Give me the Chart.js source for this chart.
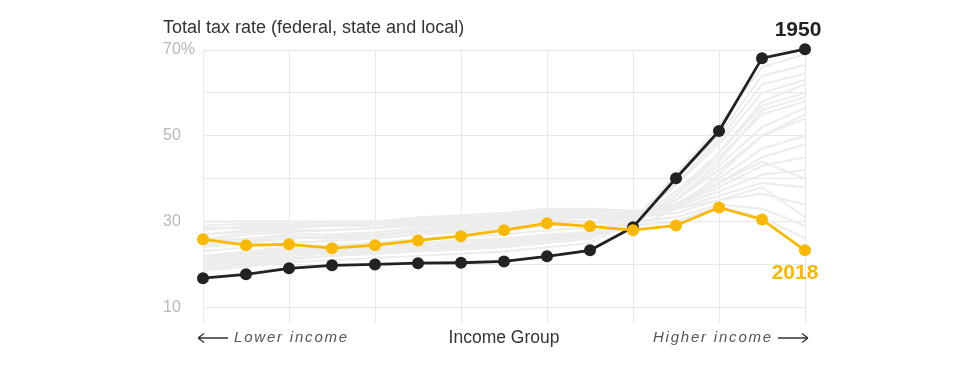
<!DOCTYPE html>
<html>
<head>
<meta charset="utf-8">
<script src="https://cdn.jsdelivr.net/npm/chart.js@4.4.1/dist/chart.umd.min.js"></script>
<style>
html,body{margin:0;padding:0;background:#fff;}
#wrap{width:974px;height:366px;position:relative;}
</style>
</head>
<body>
<div id="wrap"><canvas id="c" width="974" height="366"></canvas></div>
<script>
// Income groups (lowest to highest), 15 groups
const incomeGroups = ["G1","G2","G3","G4","G5","G6","G7","G8","G9","G10","G11","G12","G13","G14","G15"];
const yTickValues = [10, 20, 30, 40, 50, 60, 70];
const yLabelValues = [10, 30, 50, 70];

const rate1950 = [16.8, 17.7, 19.1, 19.8, 20.0, 20.3, 20.4, 20.7, 21.9, 23.3, 28.7, 40.1, 51.1, 68.1, 70.2];
const rate2018 = [25.9, 24.5, 24.7, 23.8, 24.5, 25.6, 26.6, 28.0, 29.6, 28.9, 28.0, 29.1, 33.3, 30.5, 23.3];

// Other years (grey background lines), estimated
const otherYears = [
  [18.5, 19.5, 20.5, 21.0, 21.5, 22.0, 22.5, 23.0, 24.0, 25.0, 30.0, 41.0, 52.5, 66.0, 69.0],
  [19.0, 20.0, 21.0, 22.0, 22.5, 23.0, 23.5, 24.0, 25.0, 26.0, 30.0, 40.0, 50.0, 64.0, 66.5],
  [19.5, 20.5, 21.5, 22.0, 22.5, 23.5, 24.0, 24.5, 25.5, 26.5, 30.0, 39.0, 49.0, 62.0, 64.5],
  [20.0, 21.0, 22.0, 22.5, 23.0, 24.0, 24.5, 25.0, 26.0, 27.0, 30.0, 38.5, 48.0, 60.0, 63.0],
  [21.0, 22.0, 23.0, 23.5, 24.0, 25.0, 25.5, 26.0, 27.0, 27.5, 30.0, 37.0, 46.0, 57.0, 60.0],
  [22.0, 22.5, 23.5, 24.0, 24.5, 25.0, 25.5, 26.0, 27.0, 27.0, 28.5, 33.0, 41.0, 50.0, 55.0],
  [22.0, 23.0, 24.0, 24.5, 25.0, 26.0, 26.5, 27.0, 28.0, 28.5, 30.0, 36.0, 45.0, 55.0, 58.0],
  [23.0, 24.0, 25.0, 25.5, 26.0, 27.0, 27.5, 28.0, 29.0, 29.5, 30.5, 35.0, 43.0, 52.0, 56.5],
  [24.0, 25.0, 26.0, 26.5, 27.0, 28.0, 28.5, 29.0, 30.0, 30.0, 31.0, 35.0, 42.0, 50.0, 54.0],
  [25.0, 26.0, 27.0, 27.0, 27.5, 28.5, 29.0, 29.5, 30.5, 31.0, 31.0, 34.0, 40.0, 47.0, 50.0],
  [26.0, 27.0, 27.5, 28.0, 28.5, 29.0, 29.5, 30.0, 31.0, 31.5, 31.5, 34.0, 39.0, 45.0, 48.0],
  [27.0, 28.0, 28.5, 29.0, 29.0, 29.5, 30.0, 30.5, 31.5, 32.0, 32.0, 34.0, 38.0, 43.0, 45.0],
  [28.0, 29.0, 29.0, 29.5, 29.5, 30.0, 30.5, 31.0, 32.0, 32.0, 32.0, 33.5, 37.0, 41.0, 42.0],
  [29.0, 29.5, 29.5, 30.0, 30.0, 30.5, 31.0, 31.5, 32.5, 32.5, 32.5, 33.0, 36.0, 39.0, 38.0],
  [30.0, 30.0, 30.0, 30.0, 30.0, 31.0, 31.5, 32.0, 33.0, 33.0, 32.5, 33.0, 35.0, 36.5, 34.0],
  [27.0, 27.5, 28.0, 28.0, 28.5, 29.0, 30.0, 30.5, 31.5, 31.0, 30.0, 31.0, 34.0, 33.0, 29.0],
  [26.0, 26.0, 26.5, 26.0, 26.5, 27.5, 28.5, 29.0, 30.5, 30.0, 29.0, 30.0, 33.5, 31.0, 26.0],
  [20.5, 21.5, 22.5, 23.0, 23.5, 24.0, 24.5, 25.0, 26.0, 26.5, 29.0, 36.0, 46.0, 58.0, 62.0],
  [21.5, 22.5, 23.0, 23.5, 24.0, 24.5, 25.0, 25.5, 26.5, 27.0, 29.5, 35.0, 44.0, 56.0, 59.0],
  [24.5, 25.5, 26.0, 26.5, 27.0, 27.5, 28.0, 28.5, 29.5, 30.0, 30.5, 33.0, 39.0, 44.0, 40.0],
  [28.5, 28.5, 29.0, 29.0, 29.5, 30.0, 30.5, 31.0, 32.0, 31.5, 31.0, 32.0, 35.0, 38.0, 31.0]
];

const GOLD = '#fbb800';
const BLACK = '#222222';
const GREY = '#ececec';

const datasets = [];
datasets.push({
  label: '2018', data: rate2018, borderColor: GOLD, backgroundColor: GOLD,
  borderWidth: 2.8, pointRadius: 6, pointHoverRadius: 6, pointBorderWidth: 0,
  tension: 0, clip: false, order: 0
});
datasets.push({
  label: '1950', data: rate1950, borderColor: BLACK, backgroundColor: BLACK,
  borderWidth: 2.8, pointRadius: 6, pointHoverRadius: 6, pointBorderWidth: 0,
  tension: 0, clip: false, order: 1
});
otherYears.forEach((vals, i) => {
  datasets.push({
    label: 'other' + i, data: vals, borderColor: GREY, backgroundColor: GREY,
    borderWidth: 2, pointRadius: 0, tension: 0, clip: false, order: 2 + i
  });
});

const annotations = {
  id: 'annotations',
  afterDatasetsDraw(chart) {
    const ctx = chart.ctx;
    const xs = chart.scales.x, ys = chart.scales.y;
    const area = chart.chartArea;
    const last = incomeGroups.length - 1;
    ctx.save();
    ctx.textBaseline = 'middle';
    // series labels
    ctx.font = 'bold 21px "Liberation Sans", Arial, sans-serif';
    ctx.textAlign = 'center';
    ctx.fillStyle = BLACK;
    ctx.fillText('1950', xs.getPixelForValue(last) - 7, ys.getPixelForValue(rate1950[last]) - 19);
    ctx.fillStyle = GOLD;
    ctx.fillText('2018', xs.getPixelForValue(last) - 10, ys.getPixelForValue(rate2018[last]) + 23);
    // axis labels
    const yLab = area.bottom + 15;
    ctx.font = '17.5px "Liberation Sans", Arial, sans-serif';
    ctx.fillStyle = '#333';
    ctx.textAlign = 'center';
    ctx.fillText('Income Group', (area.left + area.right) / 2, yLab);
    ctx.font = 'italic 15px "Liberation Sans", Arial, sans-serif';
    ctx.fillStyle = '#555';
    ctx.letterSpacing = '1.8px';
    ctx.textAlign = 'left';
    ctx.fillText('Lower income', area.left + 31, yLab);
    ctx.textAlign = 'right';
    ctx.fillText('Higher income', area.right - 32, yLab);
    ctx.letterSpacing = '0px';
    // arrows
    ctx.strokeStyle = '#333';
    ctx.lineWidth = 1.3;
    ctx.beginPath();
    ctx.moveTo(area.left - 5, yLab); ctx.lineTo(area.left + 25, yLab);
    ctx.moveTo(area.left - 5, yLab); ctx.lineTo(area.left + 1, yLab - 4.5);
    ctx.moveTo(area.left - 5, yLab); ctx.lineTo(area.left + 1, yLab + 4.5);
    ctx.moveTo(area.right - 27, yLab); ctx.lineTo(area.right + 3, yLab);
    ctx.moveTo(area.right + 3, yLab); ctx.lineTo(area.right - 3, yLab - 4.5);
    ctx.moveTo(area.right + 3, yLab); ctx.lineTo(area.right - 3, yLab + 4.5);
    ctx.stroke();
    ctx.restore();
  }
};

new Chart(document.getElementById('c'), {
  type: 'line',
  data: { labels: incomeGroups, datasets },
  options: {
    responsive: false,
    animation: false,
    events: [],
    layout: { padding: { left: 163, right: 169, top: 0, bottom: 0 } },
    plugins: {
      legend: { display: false },
      tooltip: { enabled: false },
      title: {
        display: true,
        text: 'Total tax rate (federal, state and local)',
        align: 'start',
        color: '#333',
        font: { family: '"Liberation Sans", Arial, sans-serif', size: 18, weight: 'normal', lineHeight: 1.2 },
        padding: { top: 17.5, bottom: 10.9 }
      }
    },
    scales: {
      x: {
        type: 'category',
        offset: false,
        border: { display: false },
        grid: {
          drawTicks: false,
          color: (c) => (c.index % 2 === 0 ? '#e8e8e8' : 'rgba(0,0,0,0)'),
          lineWidth: 1
        },
        ticks: { display: false },
        afterFit: (s) => { s.height = 43; }
      },
      y: {
        min: 6.35,
        max: 70,
        border: { display: false },
        grid: { drawTicks: false, color: '#e8e8e8', lineWidth: 1 },
        afterBuildTicks: (s) => { s.ticks = yTickValues.map(v => ({ value: v })); },
        ticks: {
          crossAlign: 'far',
          padding: 0,
          color: '#b8b8b8',
          font: { family: '"Liberation Sans", Arial, sans-serif', size: 16 },
          callback: (v) => (yLabelValues.includes(v) ? (v === 70 ? v + '%' : String(v)) : '')
        },
        afterFit: (s) => { s.width = 40; }
      }
    }
  },
  plugins: [annotations]
});
</script>
</body>
</html>
